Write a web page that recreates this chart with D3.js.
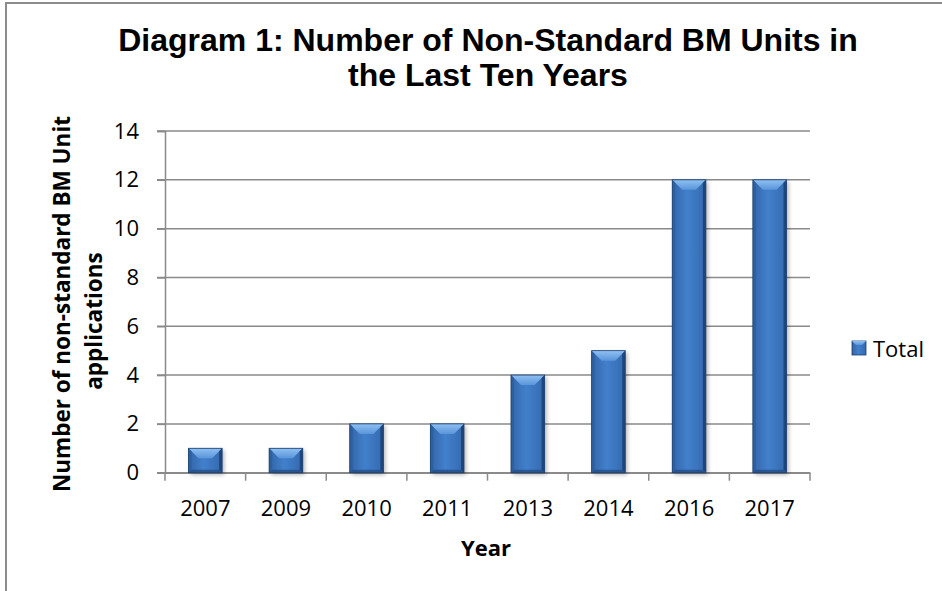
<!DOCTYPE html>
<html>
<head>
<meta charset="utf-8">
<script src="https://cdnjs.cloudflare.com/ajax/libs/d3/7.8.5/d3.min.js"></script>
<style>
  html, body { margin: 0; padding: 0; background: #fff; }
  svg { display: block; }
</style>
</head>
<body>
<script>
// ---- data ----
const categories = ["2007", "2009", "2010", "2011", "2013", "2014", "2016", "2017"];
const totals = [1, 1, 2, 2, 4, 5, 12, 12];
const yTicks = [0, 2, 4, 6, 8, 10, 12, 14];
const seriesName = "Total";
const titleLines = ["Diagram 1: Number of Non-Standard BM Units in", "the Last Ten Years"];
const yTitleLines = ["Number of non-standard BM Unit", "applications"];
const xTitle = "Year";

const W = 942, H = 591;
const svg = d3.select("body").append("svg").attr("width", W).attr("height", H);

const defs = svg.append("defs");
const g1 = defs.append("linearGradient").attr("id", "barGrad").attr("x1", "0").attr("x2", "1").attr("y1", "0").attr("y2", "0");
g1.append("stop").attr("offset", "0").attr("stop-color", "#3265a8");
g1.append("stop").attr("offset", "0.45").attr("stop-color", "#4280cc");
g1.append("stop").attr("offset", "1").attr("stop-color", "#3469ae");
const g2 = defs.append("linearGradient").attr("id", "topGrad").attr("x1", "0").attr("x2", "0").attr("y1", "0").attr("y2", "1");
g2.append("stop").attr("offset", "0").attr("stop-color", "#8fc0f2");
g2.append("stop").attr("offset", "1").attr("stop-color", "#5a95da");
const flt = defs.append("filter").attr("id", "shadow").attr("x", "-20%").attr("y", "-20%").attr("width", "150%").attr("height", "150%");
flt.append("feGaussianBlur").attr("in", "SourceAlpha").attr("stdDeviation", 2);
flt.append("feOffset").attr("dx", 2).attr("dy", 2).attr("result", "ob");
flt.append("feComponentTransfer").append("feFuncA").attr("type", "linear").attr("slope", 0.3);
const fm = flt.append("feMerge");
fm.append("feMergeNode");
fm.append("feMergeNode").attr("in", "SourceGraphic");

// chart border
svg.append("rect").attr("x", 6).attr("y", 3).attr("width", 1200).attr("height", 1200)
  .attr("fill", "none").attr("stroke", "#8c8c8c").attr("stroke-width", 2);

const plot = { left: 165, right: 810, top: 131, bottom: 472.7 };
const x = d3.scaleBand().domain(categories).range([plot.left, plot.right]).paddingInner(0.583).paddingOuter(0.2915);
const y = d3.scaleLinear().domain([0, 14]).range([plot.bottom, plot.top]);

const gridColor = "#8a8a8a";

// gridlines
svg.append("g").selectAll("line").data(yTicks).join("line")
  .attr("x1", plot.left - 8).attr("x2", plot.right)
  .attr("y1", d => y(d)).attr("y2", d => y(d))
  .attr("stroke", gridColor).attr("stroke-width", 1.5);

// y axis
const yAxis = svg.append("g").attr("transform", `translate(${plot.left},0)`)
  .call(d3.axisLeft(y).tickValues(yTicks).tickSize(8).tickPadding(18));
yAxis.select(".domain").attr("stroke", gridColor).attr("stroke-width", 1.5);
yAxis.selectAll(".tick line").attr("stroke", gridColor).attr("stroke-width", 1.5);
yAxis.selectAll(".tick text").attr("font-family", "'Open Sans', sans-serif").attr("font-size", 22).attr("fill", "#000");

// x axis
const xAxis = svg.append("g").attr("transform", `translate(0,${plot.bottom})`)
  .call(d3.axisBottom(x).tickSize(0).tickPadding(28));
xAxis.select(".domain").attr("stroke", gridColor).attr("stroke-width", 1.5);
xAxis.selectAll(".tick text").attr("font-family", "'Open Sans', sans-serif").attr("font-size", 22).attr("fill", "#000");
// boundary tick marks
const bounds = categories.map(c => x(c) - x.step() * x.paddingInner() / 2).concat([plot.right]);
xAxis.append("g").selectAll("line").data(bounds).join("line")
  .attr("x1", d => d).attr("x2", d => d).attr("y1", 0).attr("y2", 8)
  .attr("stroke", gridColor).attr("stroke-width", 1.5);

// bars with bevel
const bars = svg.append("g").selectAll("g").data(categories.map((c, i) => ({ c, v: totals[i] }))).join("g");
bars.each(function(d) {
  const gg = d3.select(this);
  const bx = x(d.c), bw = x.bandwidth(), by = y(d.v), bh = y(0) - y(d.v);
  const bev = Math.min(10, bh / 2);
  const sb = 3;
  gg.append("rect").attr("x", bx).attr("y", by).attr("width", bw).attr("height", bh)
    .attr("fill", "url(#barGrad)").attr("filter", "url(#shadow)");
  // top bevel
  gg.append("path").attr("d", `M${bx},${by} L${bx + bw},${by} L${bx + bw - bev},${by + bev} L${bx + bev},${by + bev} Z`)
    .attr("fill", "url(#topGrad)");
  // left edge
  gg.append("path").attr("d", `M${bx},${by} L${bx + sb},${by + sb} L${bx + sb},${by + bh - sb} L${bx},${by + bh} Z`)
    .attr("fill", "#2d5d9c").attr("opacity", 0.8);
  // right edge
  gg.append("path").attr("d", `M${bx + bw},${by} L${bx + bw - sb},${by + sb} L${bx + bw - sb},${by + bh - sb} L${bx + bw},${by + bh} Z`)
    .attr("fill", "#1c4275").attr("opacity", 0.9);
  // bottom edge
  gg.append("path").attr("d", `M${bx},${by + bh} L${bx + sb},${by + bh - sb} L${bx + bw - sb},${by + bh - sb} L${bx + bw},${by + bh} Z`)
    .attr("fill", "#244f88").attr("opacity", 0.8);
  gg.append("rect").attr("x", bx).attr("y", by).attr("width", bw).attr("height", bh)
    .attr("fill", "none").attr("stroke", "#1b3f70").attr("stroke-width", 0.8);
});

// title
svg.append("g").selectAll("text").data(titleLines).join("text")
  .attr("x", 488).attr("y", (d, i) => 51 + i * 35)
  .attr("text-anchor", "middle")
  .attr("font-family", "'Liberation Sans', Arial, sans-serif").attr("font-weight", "bold").attr("font-size", 32)
  .text(d => d);

// y title
svg.append("g").selectAll("text").data(yTitleLines).join("text")
  .attr("transform", (d, i) => `translate(${70 + i * 32},${i === 0 ? 304 : 321}) rotate(-90)`)
  .attr("text-anchor", "middle")
  .attr("font-family", "'Open Sans', sans-serif").attr("font-weight", "bold").attr("font-size", 22.5)
  .text(d => d);

// x title
svg.append("text").attr("x", 486).attr("y", 556).attr("text-anchor", "middle")
  .attr("font-family", "'Open Sans', sans-serif").attr("font-weight", "bold").attr("font-size", 22)
  .text(xTitle);

// legend
const lg = svg.append("g").attr("transform", "translate(852,341)");
lg.append("rect").attr("width", 14).attr("height", 14).attr("fill", "url(#barGrad)").attr("stroke", "#1b3f70").attr("stroke-width", 0.8);
lg.append("path").attr("d", "M0,0 L14,0 L10,4 L4,4 Z").attr("fill", "url(#topGrad)");
lg.append("text").attr("x", 21).attr("y", 16)
  .attr("font-family", "'Open Sans', sans-serif").attr("font-size", 22)
  .text(seriesName);
</script>
</body>
</html>
